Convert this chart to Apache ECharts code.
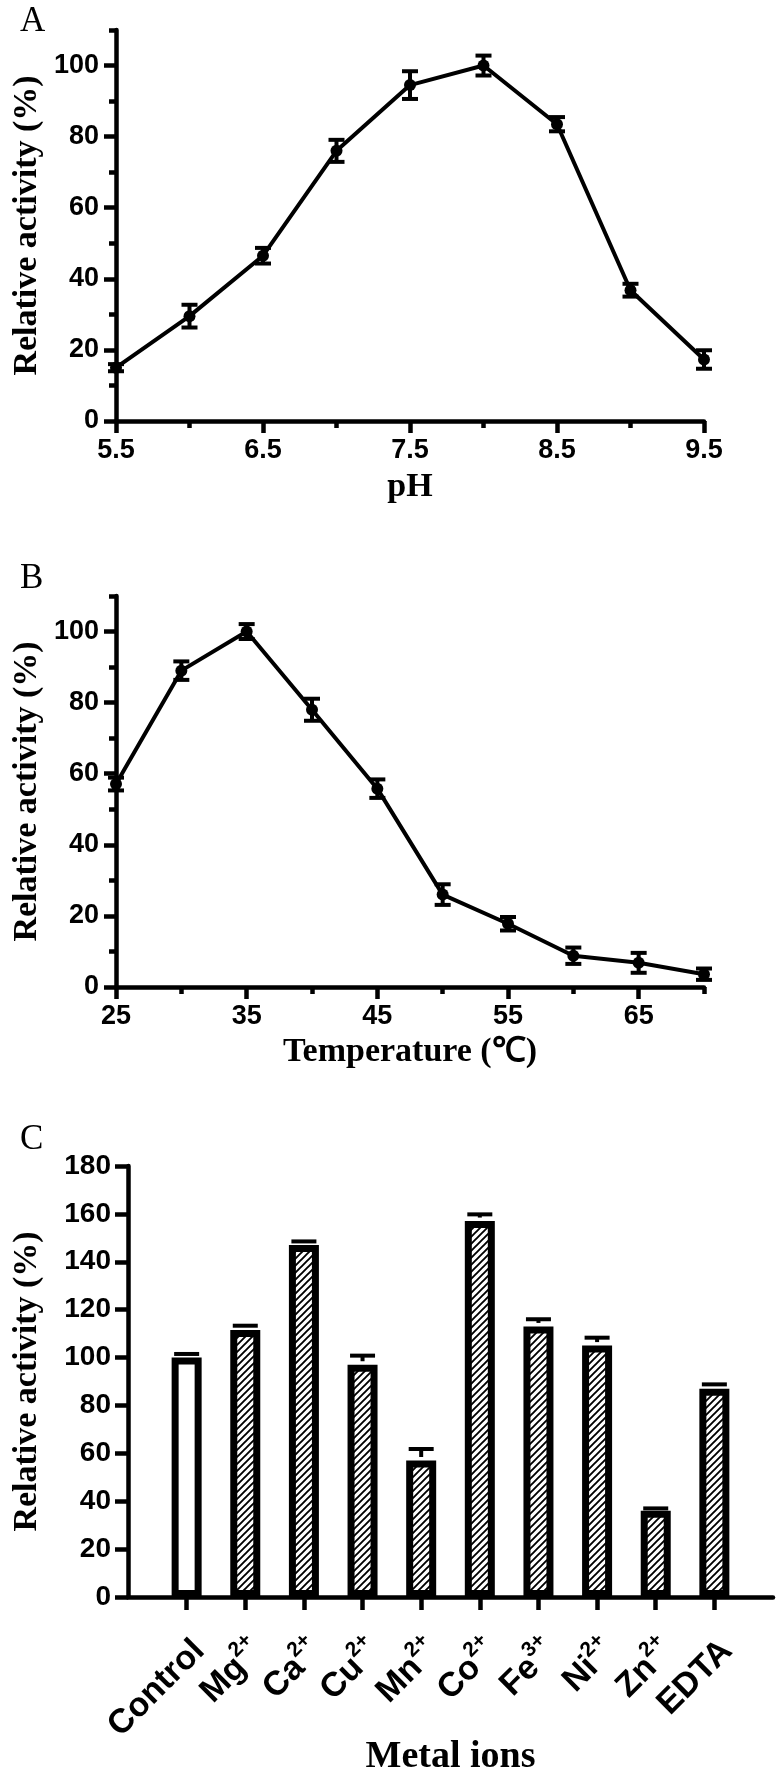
<!DOCTYPE html>
<html><head><meta charset="utf-8">
<script src="https://cdn.jsdelivr.net/npm/echarts@6/dist/echarts.min.js"></script>
<style>html,body{margin:0;padding:0;background:#fff;} #c{width:784px;height:1772px;}</style>
</head><body><div id="c"></div>
<script>
// ---- data ----
const phValues = [5.5, 6.0, 6.5, 7.0, 7.5, 8.0, 8.5, 9.0, 9.5];
const phActivity = [15, 29.5, 46.5, 76, 94.5, 100, 83.5, 36.8, 17.3];
const phError = [1.0, 3.2, 2.2, 3.1, 3.9, 2.8, 2.0, 1.8, 2.6];

const tempValues = [25, 30, 35, 40, 45, 50, 55, 60, 65, 70];
const tempActivity = [57.1, 89, 100, 78, 55.8, 26, 17.8, 8.8, 6.8, 3.6];
const tempError = [1.8, 2.6, 2.1, 3.1, 2.6, 2.9, 1.9, 2.3, 2.8, 1.6];

const metalNames = ['Control', 'Mg', 'Ca', 'Cu', 'Mn', 'Co', 'Fe', 'Ni', 'Zn', 'EDTA'];
const metalCharges = ['', '2+', '2+', '2+', '2+', '2+', '3+', '2+', '2+', ''];
const metalActivity = [100, 111.5, 147, 97, 57, 157, 113, 105, 36, 87];
const metalError = [1.5, 1.8, 1.5, 3.8, 4.8, 2.8, 3.0, 3.3, 1.0, 1.8];

const activityTicks = [0, 20, 40, 60, 80, 100];
const activityMinorTicks = [10, 30, 50, 70, 90, 110];
const phTicks = [5.5, 6.5, 7.5, 8.5, 9.5];
const phMinorTicks = [6, 7, 8, 9];
const tempTicks = [25, 35, 45, 55, 65];
const tempMinorTicks = [30, 40, 50, 60, 70];

// ---- styles ----
const SANS = '"Liberation Sans", Arial, sans-serif';
const SERIF = '"Liberation Serif", "Times New Roman", serif';
const LW = 4.5;
const lineSt = {color: '#000', width: LW};
const tickLab = {fontSize: 27, fontWeight: 'bold', fontFamily: SANS, color: '#000'};
const titleSt = {fontSize: 34, fontWeight: 'bold', fontFamily: SERIF, color: '#000'};

// hatch pattern
const pat = document.createElement('canvas');
pat.width = 7; pat.height = 7;
(function(){
  const g = pat.getContext('2d');
  g.fillStyle = '#fff'; g.fillRect(0, 0, 7, 7);
  g.strokeStyle = '#000'; g.lineWidth = 1.9;
  g.beginPath();
  g.moveTo(-1, 8); g.lineTo(8, -1);
  g.moveTo(-1, 1); g.lineTo(1, -1);
  g.moveTo(6, 8); g.lineTo(8, 6);
  g.stroke();
})();

function mainY(grid, max, ticks, interval, name, gap) {
  const a = {
    gridIndex: grid, type: 'value', position: 'left', min: 0, max: max,
    axisLine: {show: true, onZero: false, lineStyle: lineSt},
    axisTick: {show: true, length: 12, lineStyle: lineSt},
    axisLabel: Object.assign({margin: 17}, tickLab),
    splitLine: {show: false},
    name: name, nameLocation: 'middle', nameGap: gap, nameMoveOverlap: false, nameTextStyle: titleSt
  };
  if (ticks) { a.axisTick.customValues = ticks; a.axisLabel.customValues = ticks; }
  else { a.interval = interval; }
  return a;
}
function minorY(grid, max, ticks) {
  return {gridIndex: grid, type: 'value', position: 'left', offset: 0, min: 0, max: max,
    axisLine: {show: false, onZero: false}, axisLabel: {show: false}, splitLine: {show: false},
    axisTick: {show: true, length: 7, lineStyle: lineSt, customValues: ticks}};
}
function mainX(grid, min, max, ticks, name, gap, fmt) {
  return {gridIndex: grid, type: 'value', position: 'bottom', min: min, max: max,
    axisLine: {show: true, onZero: false, lineStyle: lineSt},
    axisTick: {show: true, length: 12, lineStyle: lineSt, customValues: ticks},
    axisLabel: Object.assign({margin: 16, customValues: ticks, formatter: fmt}, tickLab),
    splitLine: {show: false},
    name: name, nameLocation: 'middle', nameGap: gap, nameMoveOverlap: false, nameTextStyle: titleSt};
}
function minorX(grid, min, max, ticks) {
  return {gridIndex: grid, type: 'value', position: 'bottom', offset: 0, min: min, max: max,
    axisLine: {show: false, onZero: false}, axisLabel: {show: false}, splitLine: {show: false},
    axisTick: {show: true, length: 7, lineStyle: lineSt, customValues: ticks}};
}

function errRender(capHalf, lw) {
  return function (params, api) {
    const x = api.value(0), y = api.value(1), e = api.value(2);
    const lo = api.coord([x, y - e]), hi = api.coord([x, y + e]);
    const st = {stroke: '#000', lineWidth: lw};
    return {type: 'group', children: [
      {type: 'line', shape: {x1: lo[0], y1: lo[1], x2: hi[0], y2: hi[1]}, style: st},
      {type: 'line', shape: {x1: lo[0] - capHalf, y1: lo[1], x2: lo[0] + capHalf, y2: lo[1]}, style: st},
      {type: 'line', shape: {x1: hi[0] - capHalf, y1: hi[1], x2: hi[0] + capHalf, y2: hi[1]}, style: st}
    ]};
  };
}
const BAR_BORDER = 7;
function barErrRender(params, api) {
  const x = api.value(0), y = api.value(1), e = api.value(2);
  const b = api.coord([x, y]), hi = api.coord([x, y + e]);
  const top = b[1] - BAR_BORDER / 2;
  const st = {stroke: '#000', lineWidth: 4};
  return {type: 'group', children: [
    {type: 'line', shape: {x1: b[0], y1: top, x2: hi[0], y2: hi[1]}, style: st},
    {type: 'line', shape: {x1: hi[0] - 12.5, y1: hi[1], x2: hi[0] + 12.5, y2: hi[1]}, style: st}
  ]};
}

const catData = [' '].concat(metalNames).concat(['  ']);
const inner = (i) => i > 0 && i < catData.length - 1;

const option = {
  animation: false,
  backgroundColor: '#fff',
  grid: [
    {left: 116, top: 30, width: 588, height: 391, outerBoundsMode: 'none', containLabel: false},
    {left: 116, top: 596, width: 588, height: 391, outerBoundsMode: 'none', containLabel: false},
    {left: 128, top: 1166, width: 645, height: 431, outerBoundsMode: 'none', containLabel: false}
  ],
  xAxis: [
    mainX(0, 5.5, 9.5, phTicks, 'pH', 49, v => v.toFixed(1)),
    minorX(0, 5.5, 9.5, phMinorTicks),
    mainX(1, 25, 70, tempTicks, 'Temperature (\u2103)', 48, v => String(v)),
    minorX(1, 25, 70, tempMinorTicks),
    {gridIndex: 2, type: 'category', position: 'bottom', data: catData, boundaryGap: false,
      axisLine: {show: true, onZero: false, lineStyle: lineSt},
      axisTick: {show: true, length: 13, lineStyle: lineSt, interval: (i) => inner(i)},
      axisLabel: {interval: (i) => inner(i), rotate: 45, margin: 36, padding: [30, 0, 0, 0],
        formatter: function (v) {
          const k = metalNames.indexOf(v);
          if (k < 0) return '';
          return metalCharges[k] ? '{b|' + v + '}{s|' + metalCharges[k] + '}' : '{b|' + v + '}';
        },
        rich: {
          b: {fontSize: 34, fontWeight: 'bold', fontFamily: SANS, color: '#000', lineHeight: 40, verticalAlign: 'bottom'},
          s: {fontSize: 21, fontWeight: 'bold', fontFamily: SANS, color: '#000', lineHeight: 21, verticalAlign: 'top'}
        }},
      splitLine: {show: false},
      name: 'Metal ions', nameLocation: 'middle', nameGap: 141, nameMoveOverlap: false,
      nameTextStyle: Object.assign({}, titleSt, {fontSize: 38})}
  ],
  yAxis: [
    mainY(0, 110, activityTicks, null, 'Relative activity (%)', 72),
    minorY(0, 110, activityMinorTicks),
    mainY(1, 110, activityTicks, null, 'Relative activity (%)', 72),
    minorY(1, 110, activityMinorTicks),
    (function () {
      const a = mainY(2, 180, null, 20, 'Relative activity (%)', 84);
      a.axisTick.length = 13;
      a.axisLabel.fontSize = 28;
      return a;
    })()
  ],
  graphic: [
    {type: 'text', left: 20, top: 4, style: {text: 'A', font: '35px ' + SERIF, fill: '#000'}},
    {type: 'text', left: 20, top: 561, style: {text: 'B', font: '35px ' + SERIF, fill: '#000'}},
    {type: 'text', left: 20, top: 1122, style: {text: 'C', font: '35px ' + SERIF, fill: '#000'}}
  ],
  series: [
    {type: 'line', xAxisIndex: 0, yAxisIndex: 0, z: 3,
      data: phValues.map((x, i) => [x, phActivity[i]]),
      symbol: 'circle', symbolSize: 12,
      lineStyle: {color: '#000', width: 4}, itemStyle: {color: '#000'}},
    {type: 'custom', xAxisIndex: 0, yAxisIndex: 0, z: 4, renderItem: errRender(8, 4),
      data: phValues.map((x, i) => [x, phActivity[i], phError[i]])},
    {type: 'line', xAxisIndex: 2, yAxisIndex: 2, z: 3,
      data: tempValues.map((x, i) => [x, tempActivity[i]]),
      symbol: 'circle', symbolSize: 12,
      lineStyle: {color: '#000', width: 4}, itemStyle: {color: '#000'}},
    {type: 'custom', xAxisIndex: 2, yAxisIndex: 2, z: 4, renderItem: errRender(8, 4),
      data: tempValues.map((x, i) => [x, tempActivity[i], tempError[i]])},
    {type: 'bar', xAxisIndex: 4, yAxisIndex: 4, barWidth: 30, z: 2,
      itemStyle: {borderColor: '#000', borderWidth: BAR_BORDER},
      data: ['-'].concat(metalActivity.map((v, i) => ({
        value: v,
        itemStyle: {color: i === 0 ? '#fff' : {image: pat, repeat: 'repeat'}}
      }))).concat(['-'])},
    {type: 'custom', xAxisIndex: 4, yAxisIndex: 4, z: 3, renderItem: barErrRender,
      data: metalActivity.map((v, i) => [i + 1, v, metalError[i]])}
  ]
};
const chart = echarts.init(document.getElementById('c'), null, {renderer: 'canvas'});
chart.setOption(option);
</script>
</body></html>
